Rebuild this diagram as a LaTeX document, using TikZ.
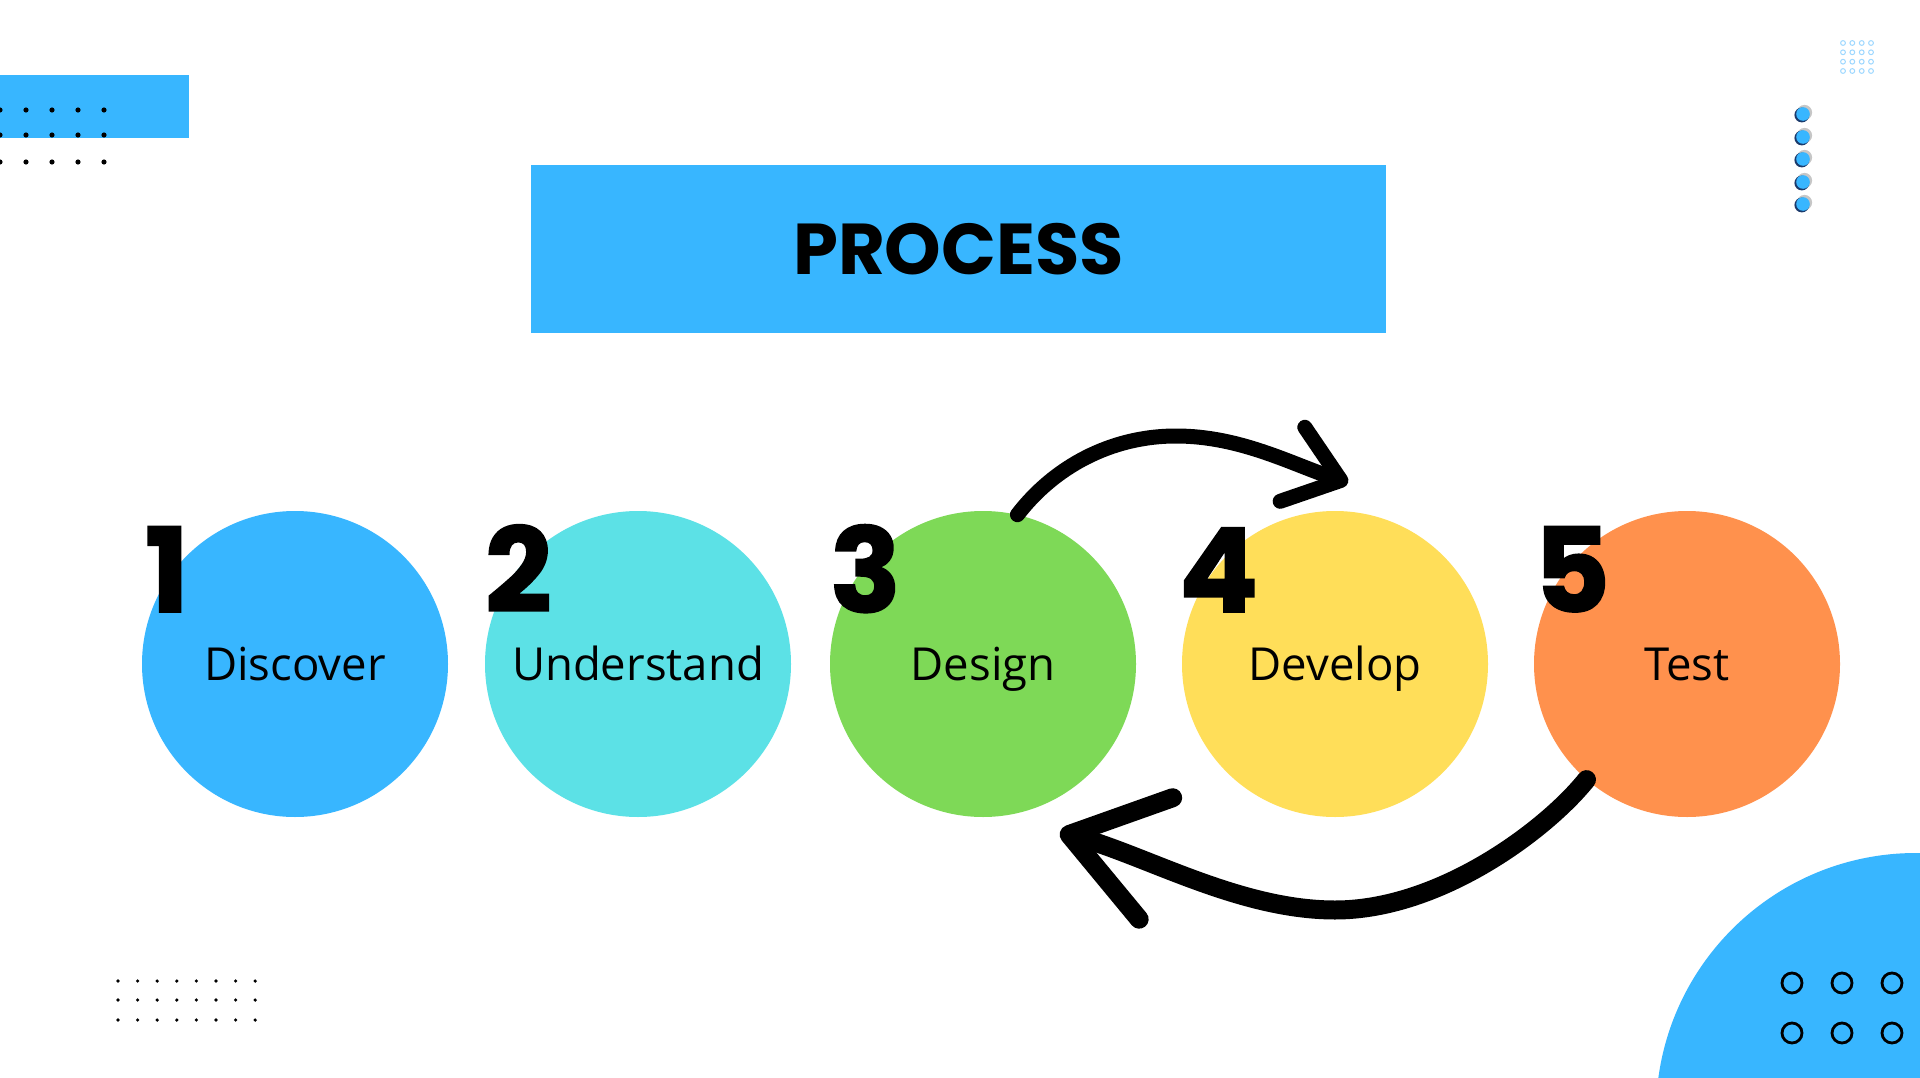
\documentclass[tikz,border=0pt]{standalone}
\usepackage{fontspec}
\setmainfont{Open Sans}
\newfontfamily\headfont{Poppins}
\newfontfamily\numfont{Poppins}[BoldFeatures={FakeBold=1.5}]
\usetikzlibrary{arrows.meta,calc,positioning}

\definecolor{procblue}{HTML}{38B6FF}
\definecolor{proccyan}{HTML}{5CE1E6}
\definecolor{procgreen}{HTML}{7ED957}
\definecolor{procyellow}{HTML}{FFDE59}
\definecolor{procorange}{HTML}{FF914D}
\definecolor{ringblue}{HTML}{9ED8FF}
\definecolor{shadenavy}{HTML}{1B3A6B}

\begin{document}
\begin{tikzpicture}[x=1pt,y=-1pt,
    step node/.style={circle,minimum size=306pt,inner sep=0pt,text height=33pt,text depth=0pt,font=\fontsize{45.5}{50}\selectfont},
    num node/.style={anchor=base west,inner sep=0pt,font=\numfont\bfseries\fontsize{117}{120}\selectfont},
    title node/.style={fill=procblue,minimum width=855pt,minimum height=167pt,inner sep=0pt,font=\headfont\bfseries\fontsize{72}{76}\selectfont},
    swoop/.style={line width=15pt,line cap=round}]

  \useasboundingbox (0,0) rectangle (1920,1078);
  \fill[white] (0,0) rectangle (1920,1078);

  % corner decorations
  \begin{scope}
    \clip (0,0) rectangle (1920,1078);
    \fill[procblue] (0,75) rectangle (189,138);
    \foreach \x in {0,26,...,104}
      \foreach \y in {110,135,162}
        \fill (\x,\y) circle (2.6pt);
    \fill[procblue] (1916,1113) circle (260pt);
    \foreach \x in {1792,1842,1892}
      \foreach \y in {983,1033}
        \draw[line width=2.8pt] (\x,\y) circle (10pt);
  \end{scope}
  \foreach \i in {0,...,7}
    \foreach \y in {981,1000,1020}
      \fill ({118+\i*19.6},\y) circle (1.8pt);
  \foreach \x in {1843,1852.3,1861.7,1871}
    \foreach \y in {43,52.3,61.7,71}
      \draw[ringblue,line width=1pt] (\x,\y) circle (2.4pt);
  \foreach \y in {114,137,159,182,204} {
    \fill[gray!45] (1804.5,{\y-1.5}) circle (7.6pt);
    \fill[shadenavy] (1801.8,{\y+1}) circle (7.4pt);
    \fill[procblue] (1803,\y) circle (6.8pt);
  }

  \node[title node] (title) at (958.5,249) {PROCESS};

  % steps
  \node[step node,fill=procblue] (c1) at (295,664) {Discover};
  \node[step node,fill=proccyan] (c2) at (638,664) {Understand};
  \node[step node,fill=procgreen] (c3) at (983,664) {Design};
  \node[step node,fill=procyellow] (c4) at (1335,664) {Develop};
  \node[step node,fill=procorange] (c5) at (1687,664) {Test};

  \node[num node] (n1) at ($(c1.west)+(3,-52)$) {1};
  \node[num node] (n2) at ($(c2.west)+(0,-52)$) {2};
  \node[num node] (n3) at ($(c3.west)+(0,-52)$) {3};
  \node[num node] (n4) at ($(c4.west)+(-3,-52)$) {4};
  \node[num node] (n5) at ($(c5.west)+(0,-52)$) {5};

  % loop arrows
  \coordinate (top1) at (1176,436);
  \coordinate (tip1) at ($(c4.north)+(13,-28)$);
  \coordinate (bot2) at (1335,910);
  \coordinate (tip2) at (1060,832);
  \draw[swoop,-{Straight Barb[length=51pt,width=78pt,round]}]
    (c3.77) .. controls +(36,-47) and +(-66,0) .. (top1)
    .. controls +(64,0) and +(-57,-19) .. (tip1);
  \draw[swoop,line width=19pt,-{Straight Barb[length=90pt,width=126pt,round]}]
    (c5.229) .. controls +(-40,50) and +(105,0) .. (bot2)
    .. controls +(-95,0) and +(87,24) .. (tip2);

\end{tikzpicture}
\end{document}
